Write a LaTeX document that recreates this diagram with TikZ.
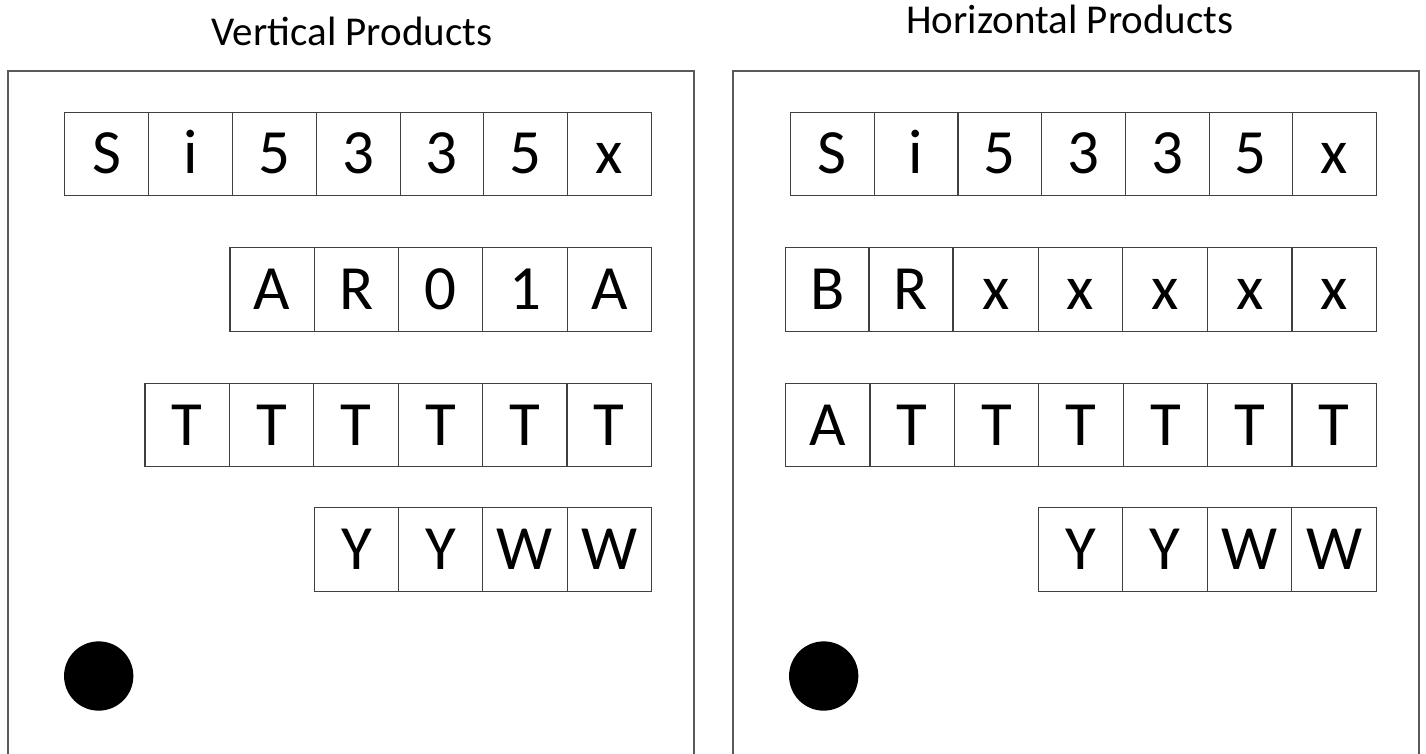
\documentclass[tikz,border=0pt]{standalone}
\usepackage{fontspec}
\setmainfont{Carlito}
\begin{document}
\begin{tikzpicture}[x=1pt,y=-1pt,
  cell/.style={draw=black!75, line width=1.1pt, inner sep=0pt, minimum height=83.3pt,
    text height=39.8pt, text depth=0pt, font=\fontsize{63}{63}\selectfont, anchor=north west},
  panel/.style={draw=black!65, line width=1.2pt},
  dot/.style={circle, fill=black, draw=none, minimum size=69.3pt, inner sep=0pt},
  title/.style={font=\fontsize{41}{41}\selectfont, anchor=base}]
\useasboundingbox (0,0) rectangle (1426,753);
% titles
\node[title] (tL) at (352,45) {Vertical Products};
\node[title] (tR) at (1070,33) {Horizontal Products};
% panels
\draw[panel] (8,770) -- (8,71) -- (694,71) -- (694,770);
\draw[panel] (733,770) -- (733,71) -- (1419,71) -- (1419,770);
% left panel rows
\foreach \t [count=\i from 0] in {S,i,5,3,3,5,x}
  \node[cell, minimum width=83.8pt] (l1-\i) at ({64.3+\i*83.8},111.7) {\t};
\foreach \t [count=\i from 0] in {A,R,0,1,A}
  \node[cell, minimum width=84.3pt] (l2-\i) at ({229.4+\i*84.3},247.3) {\t};
\foreach \t [count=\i from 0] in {T,T,T,T,T,T}
  \node[cell, minimum width=84.4pt] (l3-\i) at ({144.4+\i*84.4},383) {\t};
\foreach \t [count=\i from 0] in {Y,Y,W,W}
  \node[cell, minimum width=84.25pt] (l4-\i) at ({313.8+\i*84.25},507.3) {\t};
% right panel rows
\foreach \t [count=\i from 0] in {S,i,5,3,3,5,x}
  \node[cell, minimum width=83.7pt] (r1-\i) at ({790+\i*83.7},111.7) {\t};
\foreach \t [count=\i from 0] in {B,R}
  \node[cell, minimum width=83.4pt] (r2a-\i) at ({785+\i*83.4},247.3) {\t};
\foreach \t [count=\i from 0] in {x,x,x,x,x}
  \node[cell, minimum width=84.6pt] (r2b-\i) at ({953+\i*84.6},247.3) {\t};
\foreach \t [count=\i from 0] in {A,T,T,T,T,T,T}
  \node[cell, minimum width=84.4pt] (r3-\i) at ({785+\i*84.4},383) {\t};
\foreach \t [count=\i from 0] in {Y,Y,W,W}
  \node[cell, minimum width=84.6pt] (r4-\i) at ({1037.5+\i*84.6},507.3) {\t};
% dots
\node[dot] (dL) at (98.7,676) {};
\node[dot] (dR) at (823.7,676) {};
\end{tikzpicture}
\end{document}
